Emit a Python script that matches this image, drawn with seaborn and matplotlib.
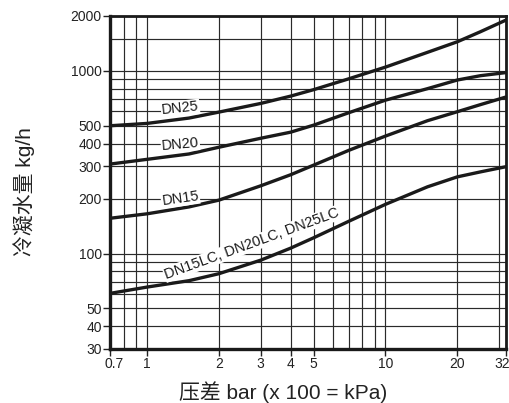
import numpy as np
import pandas as pd
import seaborn as sns
import matplotlib.pyplot as plt
from matplotlib.transforms import ScaledTranslation

# pressure difference (bar) and condensate capacity (kg/h)
dp = [0.7, 1, 1.5, 2, 3, 4, 5, 7, 10, 15, 20, 25, 32]
dn25 = [501, 516, 552, 595, 664, 728, 790, 905, 1050, 1265, 1445, 1640, 1900]
dn20 = [309, 328, 351, 382, 428, 462, 505, 590, 692, 800, 892, 942, 980]
dn15 = [156, 165, 180, 196, 235, 270, 305, 367, 440, 534, 598, 654, 720]
dn_lc = [60.5, 65.5, 71, 77.5, 92, 107, 122, 150, 186, 232, 263, 280, 299]

x_ticks = [0.7, 1, 2, 3, 4, 5, 10, 20, 32]
x_tick_labels = ["0.7", "1", "2", "3", "4", "5", "10", "20", "32"]
x_grid_extra = [0.8, 0.9, 6, 7, 8, 9, 30]
y_ticks = [30, 40, 50, 100, 200, 300, 400, 500, 1000, 2000]
y_grid_extra = [60, 70, 80, 90, 600, 700, 800, 900, 1500]

labels = ["DN25", "DN20", "DN15", "DN15LC, DN20LC, DN25LC"]
label_pos = [(1.38, 624, 6), (1.38, 398, 5), (1.38, 200, 8), (2.75, 113, 20)]

sns.set_style("white")
plt.rcParams["font.family"] = ["Liberation Sans", "Noto Sans CJK SC", "DejaVu Sans"]

df = pd.DataFrame({"dp": dp * 4,
                   "flow": dn25 + dn20 + dn15 + dn_lc,
                   "size": sum([[n] * len(dp) for n in labels], [])})

fig = plt.figure(figsize=(5.1, 4.03), dpi=100)
ax = fig.add_axes([110 / 510, 1 - 349 / 403, 396 / 510, 333 / 403])

sns.lineplot(data=df, x="dp", y="flow", units="size", estimator=None,
             color="#1a1a1a", lw=2.4, legend=False, ax=ax, zorder=3)

ax.set_xscale("log")
ax.set_yscale("log")
ax.set_xlim(0.7, 32)
ax.set_ylim(30, 2000)

ax.set_xticks(x_ticks)
ax.set_xticklabels(x_tick_labels)
ax.set_xticks(x_grid_extra, minor=True)
ax.set_yticks(y_ticks)
ax.set_yticklabels([str(v) for v in y_ticks])
ax.set_yticks(y_grid_extra, minor=True)
ax.tick_params(which="major", length=5, width=1, color="#222", pad=1,
               labelsize=10, labelcolor="#222", left=True, bottom=True)
ax.tick_params(which="minor", length=0)
ax.yaxis.set_minor_formatter(plt.NullFormatter())
ax.xaxis.set_minor_formatter(plt.NullFormatter())

# nudge the end labels inside like the original
xl = ax.get_xticklabels()
xl[0].set_transform(xl[0].get_transform() + ScaledTranslation(4 / 100, 0, fig.dpi_scale_trans))
xl[-1].set_transform(xl[-1].get_transform() + ScaledTranslation(-4 / 100, 0, fig.dpi_scale_trans))

ax.grid(True, which="both", color="#2a2a2a", lw=0.85)
ax.set_axisbelow(True)
for s in ax.spines.values():
    s.set_visible(True)
    s.set_color("#1a1a1a")
    s.set_linewidth(2)
ax.spines["left"].set_linewidth(2.4)
ax.spines["bottom"].set_linewidth(2.4)

for txt, (lx, ly, rot) in zip(labels, label_pos):
    ax.text(lx, ly, txt, fontsize=10.5, color="#1a1a1a", ha="center", va="center",
            rotation=rot, rotation_mode="anchor", zorder=4,
            bbox=dict(facecolor="white", edgecolor="none", pad=0.5))

ax.set_xlabel("压差 bar (x 100 = kPa)", fontsize=15, color="#222")
ax.set_ylabel("冷凝水量 kg/h", fontsize=15, color="#222")
ax.xaxis.set_label_coords(0.437, -0.098)
ax.yaxis.set_label_coords(-0.19, 0.473)

fig.savefig("out.png", dpi=100)
